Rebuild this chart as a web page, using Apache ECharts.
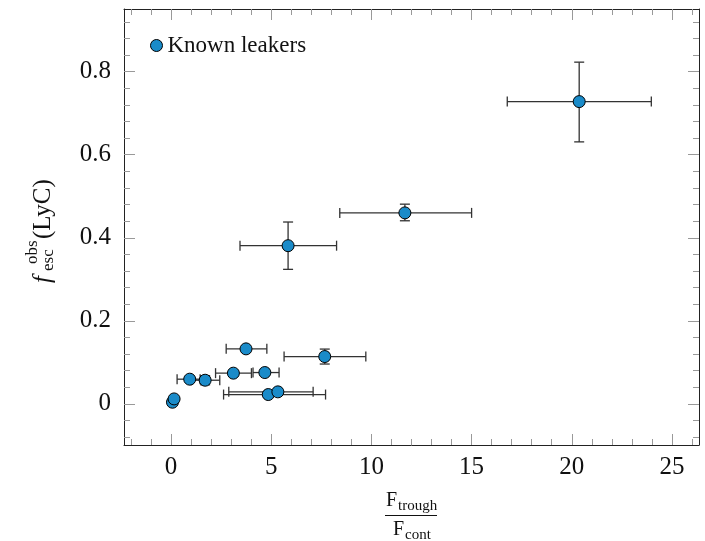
<!DOCTYPE html>
<html>
<head>
<meta charset="utf-8">
<script src="https://cdn.jsdelivr.net/npm/echarts/dist/echarts.min.js"></script>
<style>
html,body{margin:0;padding:0;background:#fff;}
#chart{width:705px;height:541px;}
</style>
</head>
<body>
<div id="chart"></div>
<script>
// ---- data ----
const ratio  = [20.37, 11.67, 5.84, 7.67, 3.74, 3.11, 4.68, 0.93, 1.70, 4.85, 5.33, 0.07, 0.15];
const fesc   = [0.728, 0.460, 0.381, 0.114, 0.1325, 0.074, 0.0755, 0.0595, 0.057, 0.0225, 0.029, 0.004, 0.012];
const ratioLo = [16.78, 8.42, 3.44, 5.64, 2.75, 2.22, 4.09, 0.30, 1.00, 2.62, 2.88, 0.03, 0.10];
const ratioHi = [23.97, 15.00, 8.26, 9.72, 4.78, 4.01, 5.39, 1.45, 2.43, 7.71, 7.09, 0.11, 0.20];
const fescLo = [0.631, 0.441, 0.324, 0.096, 0.126, 0.068, 0.070, 0.054, 0.046, 0.017, 0.023, 0.000, 0.008];
const fescHi = [0.823, 0.481, 0.438, 0.132, 0.139, 0.080, 0.081, 0.065, 0.068, 0.028, 0.035, 0.008, 0.016];

const xMajorTicks = [0, 5, 10, 15, 20, 25];
const xMinorTicks = [-2,-1,0,1,2,3,4,5,6,7,8,9,10,11,12,13,14,15,16,17,18,19,20,21,22,23,24,25,26];
const yMajorTicks = [0, 0.2, 0.4, 0.6, 0.8];
const yMinorTicks = [-0.08,-0.04,0,0.04,0.08,0.12,0.16,0.2,0.24,0.28,0.32,0.36,0.4,0.44,0.48,0.52,0.56,0.6,0.64,0.68,0.72,0.76,0.8,0.84,0.88,0.92];

const seriesName = 'Known leakers';

// ---- build ----
const X_MIN = -2.35, X_MAX = 26.35, Y_MIN = -0.099, Y_MAX = 0.951;
const SERIF = '"Liberation Serif", "DejaVu Serif", serif';
const FRAME = '#222';
const TICK = '#999';
const BLUE = '#1a8bc9';

const points = ratio.map((x, i) => [x, fesc[i]]);
const errData = ratio.map((x, i) => [x, fesc[i], ratioLo[i], ratioHi[i], fescLo[i], fescHi[i]]);

function xAxisDef(pos, ticks, len, showLine, showLabel) {
  return {
    type: 'value', position: pos, min: X_MIN, max: X_MAX,
    axisLine: {show: showLine, onZero: false, lineStyle: {color: FRAME, width: 1}},
    axisTick: {show: true, inside: true, length: len, customValues: ticks, lineStyle: {color: TICK, width: 1}},
    axisLabel: showLabel ? {show: true, customValues: xMajorTicks, margin: 10, color: '#111', fontSize: 25, fontFamily: SERIF} : {show: false},
    splitLine: {show: false}, minorTick: {show: false}
  };
}
function yAxisDef(pos, ticks, len, showLine, showLabel) {
  return {
    type: 'value', position: pos, min: Y_MIN, max: Y_MAX,
    axisLine: {show: showLine, onZero: false, lineStyle: {color: FRAME, width: 1}},
    axisTick: {show: true, inside: true, length: len, customValues: ticks, lineStyle: {color: TICK, width: 1}},
    axisLabel: showLabel ? {show: true, customValues: yMajorTicks, margin: 13, color: '#111', fontSize: 25, fontFamily: SERIF,
      padding: [4, 0, 0, 0],
      formatter: v => (Math.abs(v) < 1e-9 ? '0' : String(+v.toFixed(2)))} : {show: false},
    splitLine: {show: false}, minorTick: {show: false}
  };
}

const chart = echarts.init(document.getElementById('chart'), null, {renderer: 'canvas'});

const yLab = 227, xLab = 43;
chart.setOption({
  animation: false,
  backgroundColor: '#fff',
  grid: {left: 124, right: 6, top: 9, bottom: 96, containLabel: false},
  legend: {
    show: true, left: 145, top: 29, itemWidth: 12, itemHeight: 12,
    data: [{name: seriesName, icon: 'circle', itemStyle: {color: BLUE, borderColor: '#000', borderWidth: 1}}],
    textStyle: {fontFamily: SERIF, fontSize: 23, color: '#111'}
  },
  xAxis: [
    xAxisDef('bottom', xMajorTicks, 11, true, true),
    xAxisDef('bottom', xMinorTicks, 6, false, false),
    xAxisDef('top', xMajorTicks, 11, true, false),
    xAxisDef('top', xMinorTicks, 6, false, false)
  ],
  yAxis: [
    yAxisDef('left', yMajorTicks, 11, true, true),
    yAxisDef('left', yMinorTicks, 6, false, false),
    yAxisDef('right', yMajorTicks, 11, true, false),
    yAxisDef('right', yMinorTicks, 6, false, false)
  ],
  series: [
    {
      type: 'custom', name: 'errors', xAxisIndex: 0, yAxisIndex: 0, z: 2, silent: true,
      data: errData,
      renderItem: function (params, api) {
        const x = api.value(0), y = api.value(1);
        const l = api.coord([api.value(2), y]);
        const r = api.coord([api.value(3), y]);
        const b = api.coord([x, api.value(4)]);
        const t = api.coord([x, api.value(5)]);
        const cap = 5;
        const st = {stroke: '#333', lineWidth: 1.3};
        const ln = (x1, y1, x2, y2) => ({type: 'line', shape: {x1, y1, x2, y2}, style: st});
        return {type: 'group', children: [
          ln(l[0], l[1], r[0], r[1]),
          ln(l[0], l[1] - cap, l[0], l[1] + cap),
          ln(r[0], r[1] - cap, r[0], r[1] + cap),
          ln(t[0], t[1], b[0], b[1]),
          ln(t[0] - cap, t[1], t[0] + cap, t[1]),
          ln(b[0] - cap, b[1], b[0] + cap, b[1])
        ]};
      }
    },
    {
      type: 'scatter', name: seriesName, xAxisIndex: 0, yAxisIndex: 0, z: 5,
      symbol: 'circle', symbolSize: 12,
      itemStyle: {color: BLUE, borderColor: '#000', borderWidth: 1, opacity: 1},
      data: points
    }
  ],
  graphic: [
    // y-axis title: f_esc^obs (LyC), rotated
    {
      type: 'group', x: xLab, y: yLab, rotation: Math.PI / 2, silent: true,
      children: [
        {type: 'text', x: -56, y: 0, style: {text: 'f', font: 'italic 25px ' + SERIF, fill: '#111', align: 'left', verticalAlign: 'middle'}},
        {type: 'text', x: -44, y: 6, style: {text: 'esc', font: '17px ' + SERIF, fill: '#111', align: 'left', verticalAlign: 'middle'}},
        {type: 'text', x: -37, y: -10, style: {text: 'obs', font: '17px ' + SERIF, fill: '#111', align: 'left', verticalAlign: 'middle'}},
        {type: 'text', x: -12, y: 0, style: {text: '(LyC)', font: '25px ' + SERIF, fill: '#111', align: 'left', verticalAlign: 'middle'}}
      ]
    },
    // x-axis title: F_trough / F_cont
    {type: 'text', x: 386, y: 501, silent: true, style: {text: 'F', font: '20px ' + SERIF, fill: '#111', verticalAlign: 'middle'}},
    {type: 'text', x: 398, y: 506, silent: true, style: {text: 'trough', font: '15px ' + SERIF, fill: '#111', verticalAlign: 'middle'}},
    {type: 'line', silent: true, shape: {x1: 385, y1: 515.5, x2: 437, y2: 515.5}, style: {stroke: '#111', lineWidth: 1}},
    {type: 'text', x: 393, y: 530, silent: true, style: {text: 'F', font: '20px ' + SERIF, fill: '#111', verticalAlign: 'middle'}},
    {type: 'text', x: 405, y: 535, silent: true, style: {text: 'cont', font: '15px ' + SERIF, fill: '#111', verticalAlign: 'middle'}}
  ]
});
</script>
</body>
</html>
